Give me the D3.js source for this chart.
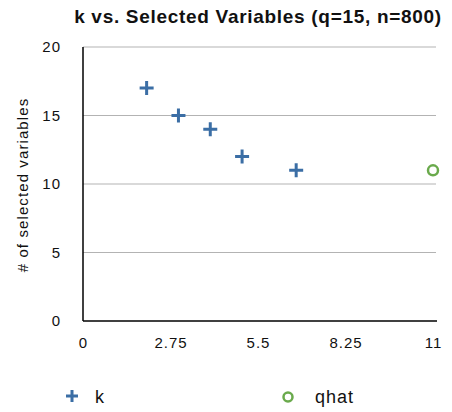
<!DOCTYPE html>
<html>
<head>
<meta charset="utf-8">
<script src="https://cdn.jsdelivr.net/npm/d3@7"></script>
<style>
  body { margin: 0; background: #fff; }
  text { font-family: "Liberation Sans", Arial, sans-serif; fill: #111; }
</style>
</head>
<body>
<svg id="chart" width="452" height="412"></svg>
<script>
// data
const kX = [2, 3, 4, 5, 6.7];
const kY = [17, 15, 14, 12, 11];
const qhatX = [11];
const qhatY = [11];
const xTicks = [0, 2.75, 5.5, 8.25, 11];
const yTicks = [0, 5, 10, 15, 20];

const svg = d3.select("#chart");
const plotLeft = 83, plotRight = 433, plotTop = 47, plotBottom = 321;

const x = d3.scaleLinear().domain([0, 11]).range([plotLeft, plotRight]);
const y = d3.scaleLinear().domain([0, 20]).range([plotBottom, plotTop]);

// title
svg.append("text")
    .attr("x", 258).attr("y", 23)
    .attr("text-anchor", "middle")
    .style("font-size", "19px").style("font-weight", "bold")
    .style("letter-spacing", "0.7px")
    .text("k vs. Selected Variables (q=15, n=800)");

// gridlines
svg.append("g").selectAll("line")
    .data(yTicks.filter(d => d > 0))
    .join("line")
    .attr("x1", plotLeft).attr("x2", plotRight + 3)
    .attr("y1", d => y(d)).attr("y2", d => y(d))
    .attr("stroke", "#b3b3b3").attr("stroke-width", 1.2);

// axes
const yAxis = svg.append("g")
    .attr("transform", "translate(" + plotLeft + ",0)")
    .call(d3.axisLeft(y).tickValues(yTicks).tickSize(0).tickPadding(22).tickFormat(d3.format("d")));
yAxis.select(".domain").attr("d", "M0," + plotTop + "V" + plotBottom)
    .attr("stroke", "#000").attr("stroke-width", 1.5);
yAxis.selectAll("text").style("font-size", "15px").style("letter-spacing", "1px").attr("font-family", null);

const xAxis = svg.append("g")
    .attr("transform", "translate(0," + plotBottom + ")")
    .call(d3.axisBottom(x).tickValues(xTicks).tickSize(0).tickPadding(16).tickFormat(d => d));
xAxis.select(".domain").attr("d", "M" + plotLeft + ",0H" + (plotRight + 4))
    .attr("stroke", "#000").attr("stroke-width", 1.5);
xAxis.selectAll("text").style("font-size", "15px").style("letter-spacing", "1px").attr("font-family", null);

// y axis label
svg.append("text")
    .attr("transform", "translate(28,185) rotate(-90)")
    .attr("text-anchor", "middle")
    .style("font-size", "15px").style("letter-spacing", "1.1px")
    .text("# of selected variables");

function plusPath(cx, cy, s) {
  return "M" + (cx - s) + "," + cy + "H" + (cx + s) + "M" + cx + "," + (cy - s) + "V" + (cy + s);
}

// k series
svg.append("g").selectAll("path")
    .data(kX.map((d, i) => [d, kY[i]]))
    .join("path")
    .attr("d", d => plusPath(x(d[0]), y(d[1]), 7))
    .attr("stroke", "#3b6ea5").attr("stroke-width", 3).attr("fill", "none");

// qhat series
svg.append("g").selectAll("circle")
    .data(qhatX.map((d, i) => [d, qhatY[i]]))
    .join("circle")
    .attr("cx", d => x(d[0])).attr("cy", d => y(d[1]))
    .attr("r", 5)
    .attr("fill", "none").attr("stroke", "#6aaa4c").attr("stroke-width", 2.5);

// legend
const legend = svg.append("g");
legend.append("path")
    .attr("d", plusPath(72, 396, 6))
    .attr("stroke", "#3b6ea5").attr("stroke-width", 3);
legend.append("text").attr("x", 95).attr("y", 403)
    .style("font-size", "18px").style("letter-spacing", "1px").text("k");
legend.append("circle")
    .attr("cx", 288).attr("cy", 397).attr("r", 4.5)
    .attr("fill", "none").attr("stroke", "#6aaa4c").attr("stroke-width", 2.5);
legend.append("text").attr("x", 315).attr("y", 403)
    .style("font-size", "18px").style("letter-spacing", "1px").text("qhat");
</script>
</body>
</html>
